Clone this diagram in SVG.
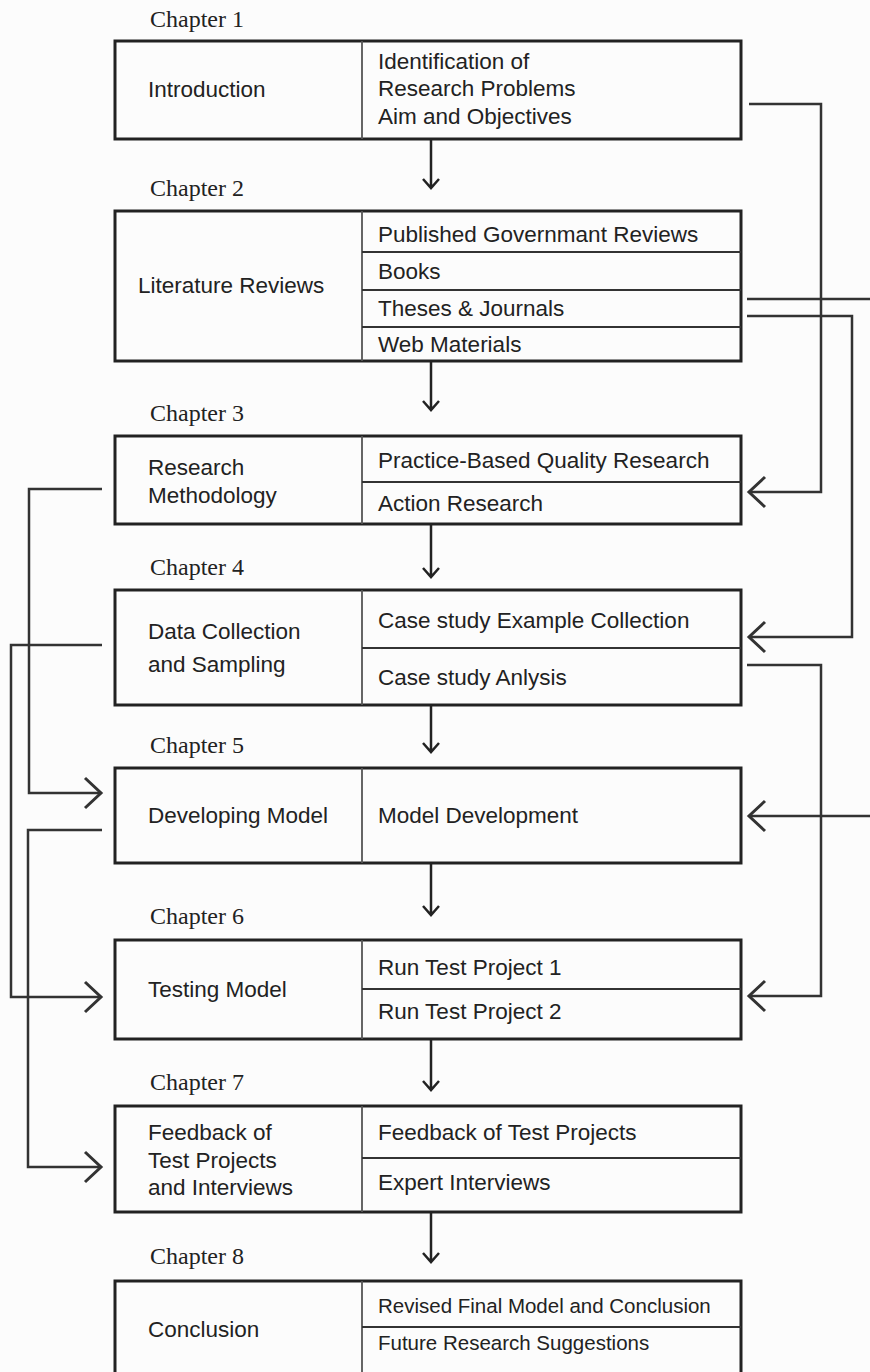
<svg xmlns="http://www.w3.org/2000/svg" width="870" height="1372" viewBox="0 0 870 1372">
<style>
.bg{fill:#fcfcfc}
.box{fill:none;stroke:#222;stroke-width:3}
.div{stroke:#555;stroke-width:1.8;fill:none}
.row{stroke:#333;stroke-width:2;fill:none}
.t{font-family:"Liberation Sans",Arial,sans-serif;font-size:22.5px;fill:#222}
.ts{font-family:"Liberation Sans",Arial,sans-serif;font-size:20.5px;fill:#222}
.ch{font-family:"Liberation Serif","Times New Roman",serif;font-size:24px;fill:#222}
.con{fill:none;stroke:#333;stroke-width:2.5}
.ah{fill:none;stroke:#333;stroke-width:3}
.dn{fill:none;stroke:#222;stroke-width:2.5}
</style>
<rect class="bg" x="0" y="0" width="870" height="1372"/>

<g id="ch1">
<text class="ch" x="150" y="27">Chapter 1</text>
<rect class="box" x="115" y="41" width="626" height="98"/>
<line class="div" x1="362" y1="41" x2="362" y2="139"/>
<text class="t" x="148" y="97">Introduction</text>
<text class="t" x="378" y="69">Identification of</text>
<text class="t" x="378" y="96">Research Problems</text>
<text class="t" x="378" y="124">Aim and Objectives</text>
</g>

<g id="ch2">
<text class="ch" x="150" y="196">Chapter 2</text>
<rect class="box" x="115" y="211" width="626" height="150"/>
<line class="div" x1="362" y1="211" x2="362" y2="361"/>
<line class="row" x1="362" y1="252" x2="741" y2="252"/>
<line class="row" x1="362" y1="290" x2="741" y2="290"/>
<line class="row" x1="362" y1="327" x2="741" y2="327"/>
<text class="t" x="138" y="293">Literature Reviews</text>
<text class="t" x="378" y="242">Published Governmant Reviews</text>
<text class="t" x="378" y="279">Books</text>
<text class="t" x="378" y="316">Theses &amp; Journals</text>
<text class="t" x="378" y="352">Web Materials</text>
</g>

<g id="ch3">
<text class="ch" x="150" y="421">Chapter 3</text>
<rect class="box" x="115" y="436" width="626" height="88"/>
<line class="div" x1="362" y1="436" x2="362" y2="524"/>
<line class="row" x1="362" y1="482" x2="741" y2="482"/>
<text class="t" x="148" y="475">Research</text>
<text class="t" x="148" y="503">Methodology</text>
<text class="t" x="378" y="468">Practice-Based Quality Research</text>
<text class="t" x="378" y="511">Action Research</text>
</g>

<g id="ch4">
<text class="ch" x="150" y="575">Chapter 4</text>
<rect class="box" x="115" y="590" width="626" height="115"/>
<line class="div" x1="362" y1="590" x2="362" y2="705"/>
<line class="row" x1="362" y1="648" x2="741" y2="648"/>
<text class="t" x="148" y="639">Data Collection</text>
<text class="t" x="148" y="672">and Sampling</text>
<text class="t" x="378" y="628">Case study Example Collection</text>
<text class="t" x="378" y="685">Case study Anlysis</text>
</g>

<g id="ch5">
<text class="ch" x="150" y="753">Chapter 5</text>
<rect class="box" x="115" y="768" width="626" height="95"/>
<line class="div" x1="362" y1="768" x2="362" y2="863"/>
<text class="t" x="148" y="823">Developing Model</text>
<text class="t" x="378" y="823">Model Development</text>
</g>

<g id="ch6">
<text class="ch" x="150" y="924">Chapter 6</text>
<rect class="box" x="115" y="940" width="626" height="99"/>
<line class="div" x1="362" y1="940" x2="362" y2="1039"/>
<line class="row" x1="362" y1="989" x2="741" y2="989"/>
<text class="t" x="148" y="997">Testing Model</text>
<text class="t" x="378" y="975">Run Test Project 1</text>
<text class="t" x="378" y="1019">Run Test Project 2</text>
</g>

<g id="ch7">
<text class="ch" x="150" y="1090">Chapter 7</text>
<rect class="box" x="115" y="1106" width="626" height="106"/>
<line class="div" x1="362" y1="1106" x2="362" y2="1212"/>
<line class="row" x1="362" y1="1158" x2="741" y2="1158"/>
<text class="t" x="148" y="1140">Feedback of</text>
<text class="t" x="148" y="1168">Test Projects</text>
<text class="t" x="148" y="1195">and Interviews</text>
<text class="t" x="378" y="1140">Feedback of Test Projects</text>
<text class="t" x="378" y="1190">Expert Interviews</text>
</g>

<g id="ch8">
<text class="ch" x="150" y="1264">Chapter 8</text>
<rect class="box" x="115" y="1281" width="626" height="110"/>
<line class="div" x1="362" y1="1281" x2="362" y2="1391"/>
<line class="row" x1="362" y1="1327" x2="741" y2="1327"/>
<text class="t" x="148" y="1337">Conclusion</text>
<text class="ts" x="378" y="1313">Revised Final Model and Conclusion</text>
<text class="ts" x="378" y="1350">Future Research Suggestions</text>
</g>

<g id="connectors">
<path class="dn" d="M431,139 V187 M423,179 L431,188 L439,179"/>
<path class="dn" d="M431,361 V409 M423,401 L431,410 L439,401"/>
<path class="dn" d="M431,524 V576 M423,568 L431,577 L439,568"/>
<path class="dn" d="M431,705 V751 M423,743 L431,752 L439,743"/>
<path class="dn" d="M431,863 V914 M423,906 L431,915 L439,906"/>
<path class="dn" d="M431,1039 V1089 M423,1081 L431,1090 L439,1081"/>
<path class="dn" d="M431,1212 V1261 M423,1253 L431,1262 L439,1253"/>
<path class="con" d="M749,104 H821 V492 H749"/>
<path class="ah" d="M765,477 L749,492 L765,507"/>
<path class="con" d="M747,299 H870"/>
<path class="con" d="M870,816 H749"/>
<path class="ah" d="M765,801 L749,816 L765,831"/>
<path class="con" d="M747,316 H852 V637 H749"/>
<path class="ah" d="M765,622 L749,637 L765,652"/>
<path class="con" d="M747,665 H821 V996 H749"/>
<path class="ah" d="M765,981 L749,996 L765,1011"/>
<path class="con" d="M102,489 H29 V793 H101"/>
<path class="ah" d="M85,778 L101,793 L85,808"/>
<path class="con" d="M102,645 H11 V997 H101"/>
<path class="ah" d="M85,982 L101,997 L85,1012"/>
<path class="con" d="M102,830 H28 V1167 H101"/>
<path class="ah" d="M85,1152 L101,1167 L85,1182"/>
</g>
</svg>
